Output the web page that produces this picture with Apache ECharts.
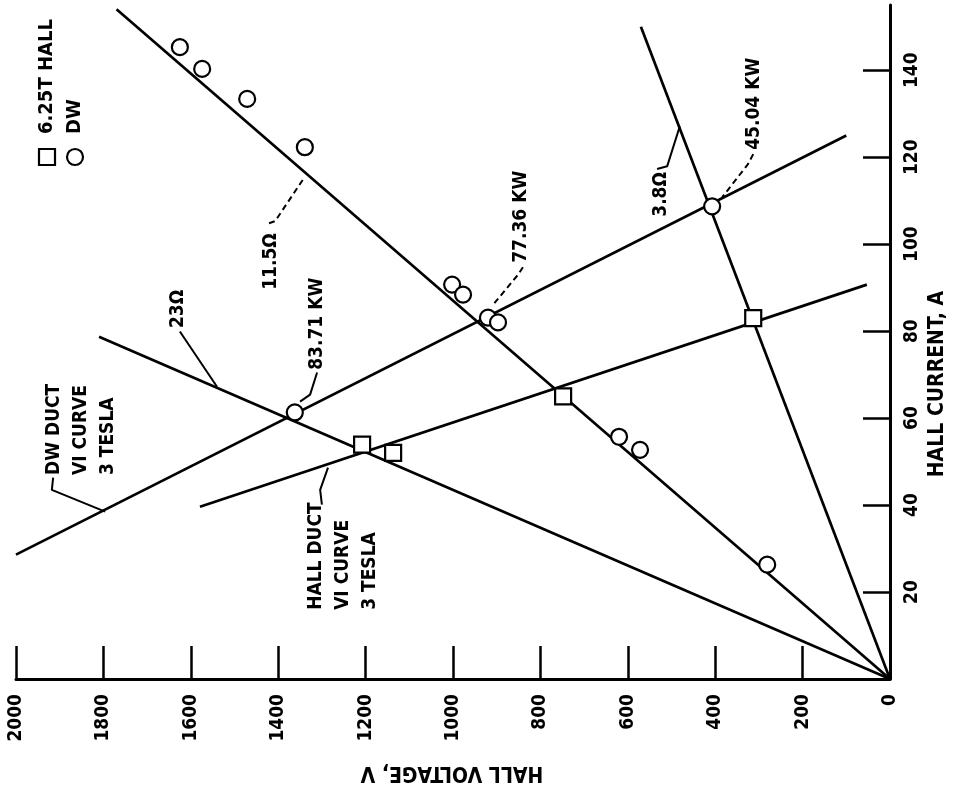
<!DOCTYPE html>
<html>
<head>
<meta charset="utf-8">
<script src="https://cdn.jsdelivr.net/npm/echarts@6/dist/echarts.min.js"></script>
<style>
html,body{margin:0;padding:0;background:#fff;}
#chart{width:953px;height:796px;}
</style>
</head>
<body>
<div id="chart"></div>
<script>
// ---- data (x = Hall voltage V, y = Hall current A) ----
var voltageTicks = [0,200,400,600,800,1000,1200,1400,1600,1800,2000];
var currentTicks = [20,40,60,80,100,120,140];
var currentTickMarks = [0,20,40,60,80,100,120,140];

var line38 = [[0,0],[570,150]];          // 3.8 ohm
var line115 = [[0,0],[1770,154]];        // 11.5 ohm
var line23 = [[0,0],[1810,78.7]];        // 23 ohm
var dwVICurve = [[2000,28.6],[100,125]]; // DW duct VI curve, 3 T
var hallVICurve = [[1579,39.6],[53,90.7]]; // Hall duct VI curve, 3 T

var hallPoints = [[1208,53.9],[1137,52],[748,65],[313,83]];
var dwPoints = [[1625,145.3],[1574,140.3],[1471,133.4],[1339,122.3],
                [1002,90.7],[977,88.4],[920,83.1],[897,82],
                [620,55.7],[572,52.7],[281,26.3],[407,108.7],[1362,61.3]];

var annotationTexts = ['83.71 KW','77.36 KW','45.04 KW','3.8\u03A9','11.5\u03A9','23\u03A9',
                       'DW DUCT\nVI CURVE\n3 TESLA','HALL DUCT\nVI CURVE\n3 TESLA'];
var annotationAnchors = [[1311,71.1],[844,95.7],[311,121.7],[524,106.3],[1416,89.5],[1629,80.7],
                         [1851,46.9],[1252,15.9]];

var leaders = [
  {pts:[[1311,70.5],[1327,65.4],[1350,63.8]], dashed:false},
  {pts:[[840,94.7],[851,93.0],[908,86.1]], dashed:true},
  {pts:[[313,120.7],[325,118.4],[384,110.8]], dashed:true},
  {pts:[[1421,104.8],[1407,105.3],[1343,114.9]], dashed:true},
  {pts:[[1625,79.9],[1540,67.2]], dashed:false},
  {pts:[[1915,46.3],[1918,43.5],[1796,38.5]], dashed:false},
  {pts:[[1300,40.1],[1304,43.5],[1286,48.6]], dashed:false},
  {pts:[[533,117.3],[510,117.9],[481,127.1]], dashed:false}
];

var legendLabels = ['6.25T HALL','DW'];
var xName = 'HALL VOLTAGE, V';
var yName = 'HALL CURRENT, A';

// ---- chart ----
var FONT = "'DejaVu Sans Condensed','Liberation Sans Narrow',sans-serif";
var chart = echarts.init(document.getElementById('chart'), null, {renderer:'canvas'});

function lineSeries(data, width, dashed){
  return {type:'line', data:data, symbol:'none', silent:true, animation:false,
    lineStyle:{color:'#000', width:width, type: dashed ? [6,4] : 'solid', opacity:1}, z:3};
}

var series = [
  lineSeries(line38, 2.7), lineSeries(line115, 2.7), lineSeries(line23, 2.7),
  lineSeries(dwVICurve, 2.7), lineSeries(hallVICurve, 2.7)
];
leaders.forEach(function(l){ series.push(lineSeries(l.pts, 2, l.dashed)); });

series.push({type:'scatter', data:hallPoints, symbol:'rect', symbolSize:16, z:5, animation:false,
  itemStyle:{color:'#fff', borderColor:'#000', borderWidth:2.2, opacity:1}});
series.push({type:'scatter', data:dwPoints, symbol:'circle', symbolSize:16, z:5, animation:false,
  itemStyle:{color:'#fff', borderColor:'#000', borderWidth:2.2, opacity:1}});

series.push({type:'scatter', symbolSize:1, z:6, animation:false, silent:true,
  itemStyle:{color:'rgba(0,0,0,0)', opacity:1},
  data: annotationAnchors.map(function(a,i){ return {name:annotationTexts[i], value:a}; }),
  label:{show:true, position:'inside', formatter:function(p){return p.name;}, rotate:90,
    align:'left', verticalAlign:'middle', color:'#000', opacity:1, textBorderWidth:0,
    fontSize:19, fontWeight:'bold', fontFamily:FONT, lineHeight:27}
});

var option = {
  backgroundColor:'#fff',
  animation:false,
  grid:{left:16, right:63, top:5, bottom:117, containLabel:false},
  xAxis:{type:'value', inverse:true, min:0, max:2000, interval:200,
    axisLine:{show:true, lineStyle:{color:'#000', width:3}},
    axisTick:{show:true, inside:true, length:33, lineStyle:{color:'#000', width:2.5}},
    axisLabel:{rotate:90, fontSize:19, fontWeight:'bold', color:'#000', margin:15, fontFamily:FONT,
      customValues:voltageTicks, formatter:function(v){return String(v);}},
    splitLine:{show:false}},
  yAxis:{type:'value', position:'right', min:0, max:155,
    axisLine:{show:true, onZero:false, lineStyle:{color:'#000', width:3}},
    axisTick:{show:true, inside:true, length:27, lineStyle:{color:'#000', width:2.5},
      customValues:currentTickMarks},
    axisLabel:{rotate:90, fontSize:19, fontWeight:'bold', color:'#000', margin:13, fontFamily:FONT,
      customValues:currentTicks, formatter:function(v){return String(v);}},
    splitLine:{show:false}},
  graphic:[
    {type:'text', x:452, y:772, rotation:Math.PI,
      style:{text:xName, fill:'#000', font:'bold 21px '+FONT, textAlign:'center', textVerticalAlign:'middle'}},
    {type:'text', x:938, y:384, rotation:Math.PI/2,
      style:{text:yName, fill:'#000', font:'bold 21px '+FONT, textAlign:'center', textVerticalAlign:'middle'}},
    {type:'rect', shape:{x:39, y:149, width:16, height:16},
      style:{fill:'#fff', stroke:'#000', lineWidth:2.2}},
    {type:'text', x:47, y:134, rotation:Math.PI/2,
      style:{text:legendLabels[0], fill:'#000', font:'bold 20px '+FONT, textAlign:'left', textVerticalAlign:'middle'}},
    {type:'circle', shape:{cx:75, cy:157, r:8},
      style:{fill:'#fff', stroke:'#000', lineWidth:2.2}},
    {type:'text', x:75, y:134, rotation:Math.PI/2,
      style:{text:legendLabels[1], fill:'#000', font:'bold 20px '+FONT, textAlign:'left', textVerticalAlign:'middle'}}
  ],
  series:series
};
chart.setOption(option);
</script>
</body>
</html>
